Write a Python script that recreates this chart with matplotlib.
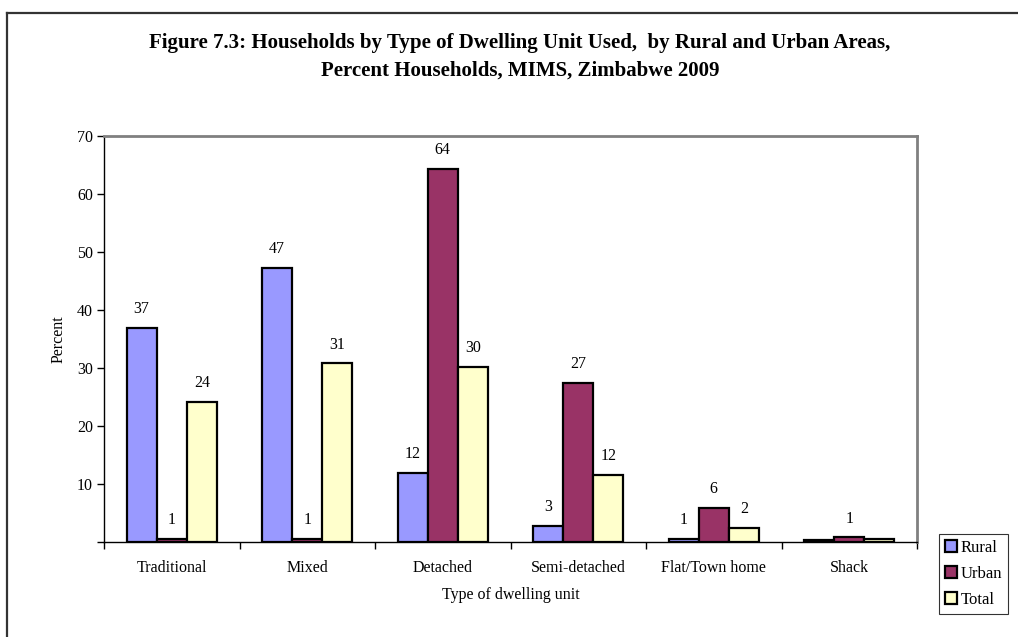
#!/usr/bin/env python3
from __future__ import annotations

import matplotlib

matplotlib.use("Agg")
import matplotlib.pyplot as plt
import numpy as np
from matplotlib.lines import Line2D
from matplotlib.patches import Patch

CATEGORIES = [
  "Traditional",
  "Mixed",
  "Detached",
  "Semi-detached",
  "Flat/Town home",
  "Shack",
]
RURAL = [36.9, 47.2, 11.9, 2.8, 0.6, 0.3]
URBAN = [0.5, 0.5, 64.3, 27.4, 5.9, 0.8]
TOTAL = [24.1, 30.8, 30.2, 11.6, 2.4, 0.5]

# data labels as shown (values rounding to 0 are not labelled)
RURAL_LABELS = ["37", "47", "12", "3", "1", ""]
URBAN_LABELS = ["1", "1", "64", "27", "6", "1"]
TOTAL_LABELS = ["24", "31", "30", "12", "2", ""]

SERIES_NAMES = ["Rural", "Urban", "Total"]
SERIES_COLORS = ["#9999FF", "#993366", "#FFFFCC"]

TITLE_LINES = [
  "Figure 7.3: Households by Type of Dwelling Unit Used,  by Rural and Urban Areas,",
  "Percent Households, MIMS, Zimbabwe 2009",
]
Y_TICKS = [0, 10, 20, 30, 40, 50, 60, 70]

W, H = 1018, 637


def plot_chart(out_png: str) -> None:
  plt.rcParams["font.family"] = ["Liberation Serif", "DejaVu Serif"]

  fig = plt.figure(figsize=(W / 100, H / 100), dpi=100)
  ax = fig.add_axes([104 / W, 1 - 542 / H, (917 - 104) / W, (542 - 136) / H])

  # outer chart frame (top and left visible, rest runs off the image)
  frame_kw = dict(color="#333333", linewidth=1.6, transform=fig.transFigure)
  fig.add_artist(Line2D([7 / W, 1.0], [1 - 13 / H, 1 - 13 / H], **frame_kw))
  fig.add_artist(Line2D([7 / W, 7 / W], [1 - 13 / H, 0.0], **frame_kw))

  x = np.arange(len(CATEGORIES))
  bar_w = 0.222
  all_values = [RURAL, URBAN, TOTAL]
  all_labels = [RURAL_LABELS, URBAN_LABELS, TOTAL_LABELS]

  for i, (vals, labels, color) in enumerate(zip(all_values, all_labels, SERIES_COLORS)):
    xs = x + (i - 1) * bar_w
    ax.bar(
      xs,
      vals,
      width=bar_w,
      color=color,
      edgecolor="black",
      linewidth=1.6,
      zorder=3,
    )
    for xv, v, lab in zip(xs, vals, labels):
      if not lab:
        continue
      ax.annotate(
        lab,
        (xv, v),
        xytext=(0, 13.5),
        textcoords="offset points",
        ha="center",
        va="center",
        fontsize=11.5,
      )

  ax.set_xlim(-0.5, len(CATEGORIES) - 0.5)
  ax.set_ylim(0, 70)
  ax.set_yticks(Y_TICKS)
  ax.set_yticklabels(["" if t == 0 else str(t) for t in Y_TICKS])

  # category ticks sit between the groups
  ax.set_xticks(np.arange(len(CATEGORIES) + 1) - 0.5)
  ax.set_xticklabels([""] * (len(CATEGORIES) + 1))
  ax.set_xticks(x, minor=True)
  ax.set_xticklabels(CATEGORIES, minor=True, fontsize=11.5)
  ax.tick_params(axis="x", which="minor", length=0, pad=13)
  ax.tick_params(axis="x", which="major", length=5, width=1, direction="out")
  ax.tick_params(axis="y", length=5, width=1, direction="out", labelsize=11.5, pad=3)

  for side in ("left", "bottom"):
    ax.spines[side].set_color("black")
    ax.spines[side].set_linewidth(1.0)
  for side in ("top", "right"):
    ax.spines[side].set_color("#808080")
    ax.spines[side].set_linewidth(2.0)

  ax.set_ylabel("Percent", fontsize=11.5)
  ax.yaxis.set_label_coords(-37 / (917 - 104), 0.5)
  ax.set_xlabel("Type of dwelling unit", fontsize=11.5)
  ax.xaxis.set_label_coords(0.5, -(587 - 542) / (542 - 136))

  for line, y in zip(TITLE_LINES, (43, 71)):
    fig.text(
      520 / W,
      1 - y / H,
      line,
      ha="center",
      va="center",
      fontsize=15,
      fontweight="bold",
    )

  handles = [
    Patch(facecolor=c, edgecolor="black", linewidth=1.6, label=n)
    for n, c in zip(SERIES_NAMES, SERIES_COLORS)
  ]
  fig.legend(
    handles=handles,
    loc="upper left",
    bbox_to_anchor=(939 / W, 1 - 534 / H),
    frameon=True,
    fancybox=False,
    edgecolor="black",
    fontsize=12,
    handlelength=0.7,
    handleheight=0.7,
    handletextpad=0.25,
    labelspacing=0.6,
    borderpad=0.35,
    borderaxespad=0.0,
  ).get_frame().set_linewidth(0.8)

  fig.savefig(out_png, dpi=100)
  plt.close(fig)


if __name__ == "__main__":
  plot_chart("out.png")
